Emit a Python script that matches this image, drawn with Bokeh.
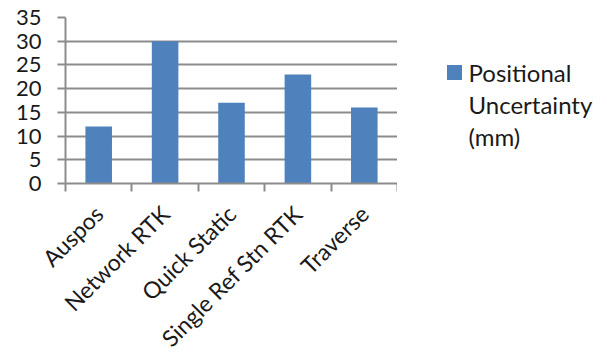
import math
from bokeh.plotting import figure
from bokeh.layouts import row
from bokeh.models import ColumnDataSource, FixedTicker, Range1d
from bokeh.core.properties import value
from bokeh.embed import file_html
from bokeh.resources import INLINE

# Survey methods and their positional uncertainty (mm)
methods = ["Auspos", "Network RTK", "Quick Static", "Single Ref Stn RTK", "Traverse"]
uncertainty_mm = [12, 30, 17, 23, 16]
y_ticks = [0, 5, 10, 15, 20, 25, 30, 35]
series_name = ["Positional", "Uncertainty", "(mm)"]

BAR = "#4f81bd"
GRID = "#8c8c8c"
TEXT = "#1a1a1a"
FONT = "Lato"

centers = [i + 0.5 for i in range(len(methods))]
src = ColumnDataSource(data=dict(x=centers, top=uncertainty_mm, method=methods))

p = figure(frame_width=332, frame_height=166, output_backend="svg", toolbar_location=None,
           x_range=Range1d(0, len(methods)), y_range=Range1d(0, 35), title=None,
           min_border_left=65, min_border_right=0, min_border_top=17,
           min_border_bottom=170, align="start")
p.outline_line_color = None
p.background_fill_color = "white"
p.border_fill_color = "white"

p.vbar(x="x", top="top", width=0.4, bottom=0, source=src,
       fill_color=BAR, line_color=None)

# category x axis: labels at bar centres, tick marks at category boundaries
xa = p.xaxis[0]
xa.ticker = FixedTicker(ticks=centers, minor_ticks=list(range(len(methods) + 1)))
xa.major_label_overrides = {c: m for c, m in zip(centers, methods)}
xa.major_tick_line_color = None
xa.minor_tick_line_color = GRID
xa.minor_tick_line_width = 2
xa.minor_tick_in = 0
xa.minor_tick_out = 8
xa.axis_line_color = GRID
xa.axis_line_width = 2
xa.major_label_orientation = math.pi / 4
xa.major_label_text_font = FONT
xa.major_label_text_font_size = "23px"
xa.major_label_text_color = TEXT
xa.major_label_standoff = 18

ya = p.yaxis[0]
ya.ticker = FixedTicker(ticks=y_ticks)
ya.axis_line_color = GRID
ya.axis_line_width = 2
ya.major_tick_line_color = GRID
ya.major_tick_line_width = 2
ya.major_tick_in = 0
ya.major_tick_out = 8
ya.minor_tick_line_color = None
ya.major_label_text_font = FONT
ya.major_label_text_font_size = "22px"
ya.major_label_text_color = TEXT
ya.major_label_standoff = 16

p.xgrid.grid_line_color = None
p.ygrid.grid_line_color = GRID
p.ygrid.grid_line_width = 2
p.ygrid.ticker = FixedTicker(ticks=y_ticks)

# legend panel to the right of the chart; its frame top lines up with the
# chart's frame top, so y is measured down from there
LG_W, LG_H = 210, 336
lg = figure(frame_width=LG_W, frame_height=LG_H, output_backend="svg", toolbar_location=None,
            x_range=Range1d(0, LG_W), y_range=Range1d(0, LG_H), title=None,
            min_border=0, x_axis_type=None, y_axis_type=None, align="start")
lg.outline_line_color = None
lg.grid.grid_line_color = None
lg.border_fill_color = "white"
lg.background_fill_color = "white"

row_y = [55 + 32 * i for i in range(len(series_name))]
lg.scatter(x=[57], y=[LG_H - row_y[0]], marker="square", size=15,
           fill_color=BAR, line_color=None)
lg.text(x=[71] * len(series_name), y=[LG_H - v for v in row_y],
        text=series_name, text_font=value(FONT), text_font_size="24px",
        text_color=TEXT, text_baseline="middle", text_align="left")

layout = row(p, lg, spacing=0)
open("out.html", "w").write(file_html(layout, INLINE))
